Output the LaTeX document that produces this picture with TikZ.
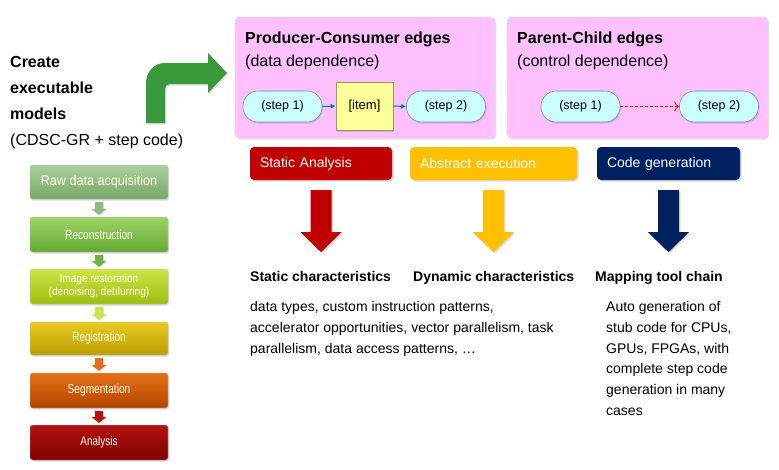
\documentclass[tikz,border=0pt]{standalone}
\usepackage{fontspec}
\setmainfont{Liberation Sans}
\usetikzlibrary{shadows,calc,arrows.meta}
\definecolor{pinkbg}{RGB}{255,192,255}
\definecolor{cyanbg}{RGB}{204,255,255}
\definecolor{pillline}{RGB}{120,140,150}
\definecolor{itembg}{RGB}{255,255,153}
\definecolor{itemline}{RGB}{150,150,100}
\definecolor{arrblue}{RGB}{0,112,192}
\definecolor{dashred}{RGB}{255,0,0}
\definecolor{bigred}{RGB}{192,0,0}
\definecolor{bigyellow}{RGB}{255,192,0}
\definecolor{bignavy}{RGB}{0,32,96}
\definecolor{bentgreen}{RGB}{58,153,58}
\definecolor{rawtop}{RGB}{170,208,155}
\definecolor{rawbot}{RGB}{118,168,104}
\definecolor{rectop}{RGB}{158,212,105}
\definecolor{recbot}{RGB}{100,168,52}
\definecolor{imgtop}{RGB}{205,228,70}
\definecolor{imgbot}{RGB}{158,190,18}
\definecolor{regtop}{RGB}{232,202,35}
\definecolor{regbot}{RGB}{188,158,0}
\definecolor{segtop}{RGB}{228,112,22}
\definecolor{segbot}{RGB}{178,70,0}
\definecolor{anatop}{RGB}{178,18,18}
\definecolor{anabot}{RGB}{128,0,0}
\definecolor{pipetext}{RGB}{255,255,235}
\newcommand\pipearrow[3]{%
  \fill[#3,drop shadow={shadow xshift=0.8pt,shadow yshift=-0.8pt,opacity=0.25}]
    ($(#1.south)+(-4,3)$) -- ($(#1.south)+(4,3)$) -- ($(#2.north)+(4,-8)$)
    -- ($(#2.north)+(7.5,-8)$) -- ($(#2.north)+(0,-2)$) -- ($(#2.north)+(-7.5,-8)$)
    -- ($(#2.north)+(-4,-8)$) -- cycle;}
\newcommand\bigdownarrow[2]{%
  \fill[#2,drop shadow={shadow xshift=1.5pt,shadow yshift=-1.5pt,opacity=0.25}]
    ($(#1.south)+(-10.5,10)$) -- ($(#1.south)+(10.5,10)$) -- ($(#1.south)+(10.5,52)$)
    -- ($(#1.south)+(20.5,52)$) -- ($(#1.south)+(0,72)$) -- ($(#1.south)+(-20.5,52)$)
    -- ($(#1.south)+(-10.5,52)$) -- cycle;}
\newcommand\pipefont[3]{\fontsize{#1}{#2}\selectfont\addfontfeature{FakeStretch=#3}}
\begin{document}
\begin{tikzpicture}[x=1pt,y=-1pt,
  pinkbox/.style={fill=pinkbg, rounded corners=4pt, inner sep=0pt,
    minimum height=121pt,
    drop shadow={shadow xshift=1pt,shadow yshift=-1.5pt,opacity=0.25}},
  pill/.style={fill=cyanbg, draw=pillline, line width=0.6pt, rounded corners=15pt,
    minimum width=79pt, minimum height=31pt, inner sep=0pt,
    font=\fontsize{12.5}{15}\selectfont,
    drop shadow={shadow xshift=1pt,shadow yshift=-1.5pt,opacity=0.3}},
  itembox/.style={fill=itembg, draw=itemline, line width=0.6pt,
    minimum width=57pt, minimum height=48pt, inner sep=0pt,
    font=\fontsize{13}{15}\selectfont,
    drop shadow={shadow xshift=1pt,shadow yshift=-1.5pt,opacity=0.3}},
  hdr/.style={rounded corners=4pt, text=white, minimum height=33pt,
    inner xsep=10pt, inner ysep=0pt, align=left,
    font=\fontsize{14}{16}\selectfont,
    drop shadow={shadow xshift=1.5pt,shadow yshift=-1.5pt,opacity=0.3}},
  pipe/.style={rounded corners=2.5pt, minimum width=138pt, inner sep=0pt,
    text=pipetext, align=center, font=\pipefont{13}{14}{0.78},
    draw=black!25, line width=0.3pt,
    drop shadow={shadow xshift=1pt,shadow yshift=-1.5pt,opacity=0.3}},
  titletext/.style={anchor=base west, inner sep=0pt, font=\fontsize{16}{19}\selectfont\bfseries},
  subtext/.style={anchor=base west, inner sep=0pt, font=\fontsize{16}{19}\selectfont},
  chartext/.style={anchor=base west, inner sep=0pt, font=\fontsize{14}{17}\selectfont\bfseries},
  bodytext/.style={anchor=north west, inner sep=0pt, align=left, font=\fontsize{14}{20.7}\selectfont},
  bluearr/.style={arrblue, line width=1pt, -{Latex[length=5pt,width=5pt]}},
  redarr/.style={dashred, line width=0.8pt, dash pattern=on 3pt off 2pt, -{To[length=5pt,width=10pt]}}
]
\useasboundingbox (0,0) rectangle (779,469);
\fill[white] (0,0) rectangle (779,469);

% left text
\node[anchor=north west, inner sep=0pt, align=left, font=\fontsize{16}{26}\selectfont] (create) at (10,56.3)
  {\textbf{Create}\\\textbf{executable}\\\textbf{models}\\(CDSC-GR + step code)};

% bent green arrow
\fill[bentgreen, drop shadow={shadow xshift=1pt,shadow yshift=-1.5pt,opacity=0.25}]
  (146,123) -- (146,83) .. controls (146,72) and (154,63) .. (165,63) -- (208,63)
  -- (208,53) -- (227,73) -- (208,93) -- (208,84) -- (170,84)
  .. controls (167,84) and (165,86) .. (165,89) -- (165,123) -- cycle;

% pink boxes
\node[pinkbox, minimum width=260pt] (pcbox) at (365,77.5) {};
\node[pinkbox, minimum width=261pt] (parbox) at (637.5,77.5) {};
\node[titletext] (pctitle) at (245,43) {Producer-Consumer edges};
\node[subtext] (pcsub) at (245,66) {(data dependence)};
\node[titletext] (partitle) at (517,43) {Parent-Child edges};
\node[subtext] (parsub) at (517,66) {(control dependence)};

\node[pill] (pa) at (282.5,106.5) {(step 1)};
\node[itembox] (item) at (364.5,106) {[item]};
\node[pill] (pb) at (446,106.5) {(step 2)};
\draw[bluearr] (pa.east) -- (item.west);
\draw[bluearr] (item.east) -- (pb.west);

\node[pill] (qa) at (580.5,106.5) {(step 1)};
\node[pill] (qb) at (719,106.5) {(step 2)};
\draw[redarr] (qa.east) -- (qb.west);

% pipeline
\node[pipe, minimum height=34pt, top color=rawtop, bottom color=rawbot, font=\pipefont{14}{15}{0.9}] (raw) at (99,182) {Raw data acquisition};
\node[pipe, minimum height=35pt, top color=rectop, bottom color=recbot] (rec) at (99,234.5) {Reconstruction};
\node[pipe, minimum height=35pt, top color=imgtop, bottom color=imgbot, font=\pipefont{11.5}{13}{0.88}] (img) at (99,286.5) {Image restoration\\(denoising, deblurring)};
\node[pipe, minimum height=33pt, top color=regtop, bottom color=regbot, font=\pipefont{13.5}{14}{0.74}] (reg) at (99,338.5) {Registration};
\node[pipe, minimum height=35pt, top color=segtop, bottom color=segbot] (seg) at (99,390.5) {Segmentation};
\node[pipe, minimum height=35pt, top color=anatop, bottom color=anabot, font=\pipefont{12.5}{14}{0.8}] (ana) at (99,442.5) {Analysis};
\pipearrow{raw}{rec}{rawbot!80!white}
\pipearrow{rec}{img}{recbot!90!white}
\pipearrow{img}{reg}{imgtop}
\pipearrow{reg}{seg}{segtop}
\pipearrow{seg}{ana}{anatop}

% headers
\node[hdr, fill=bigred, text width=122pt] (sa) at (321,163.5) {Static Analysis};
\node[hdr, fill=bigyellow, text width=147pt] (ae) at (493.5,163.5) {Abstract execution};
\node[hdr, fill=bignavy, text width=123pt] (cg) at (668.5,163.5) {Code generation};
\bigdownarrow{sa}{bigred}
\bigdownarrow{ae}{bigyellow}
\bigdownarrow{cg}{bignavy}

% characteristics
\node[chartext] (sc) at (250,281) {Static characteristics};
\node[chartext] (dc) at (413,281) {Dynamic characteristics};
\node[chartext] (mt) at (595,281) {Mapping tool chain};
\node[bodytext] (scbody) at (250,301.5) {data types, custom instruction patterns,\\accelerator opportunities, vector parallelism, task\\parallelism, data access patterns, \dots};
\node[bodytext] (mtbody) at (606,301.5) {Auto generation of\\stub code for CPUs,\\GPUs, FPGAs, with\\complete step code\\generation in many\\cases};
\end{tikzpicture}
\end{document}
